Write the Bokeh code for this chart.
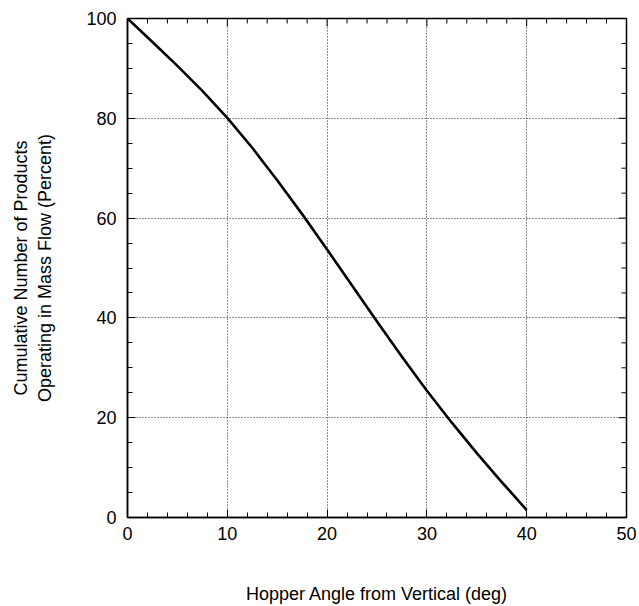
import math
from bokeh.plotting import figure
from bokeh.models import Range1d, FixedTicker
from bokeh.embed import file_html
from bokeh.resources import INLINE

angle = [0, 2.5, 5, 7.5, 10, 12.5, 15, 17.5, 20, 22.5, 25, 27.5, 30, 32.5, 35, 37.5, 40]
percent = [100, 95.3, 90.5, 85.5, 80.1, 74.1, 67.6, 60.8, 53.7, 46.5, 39.3, 32.2, 25.4, 19.0, 12.9, 7.1, 1.5]
x_ticks = [0, 10, 20, 30, 40, 50]
y_ticks = [0, 20, 40, 60, 80, 100]
x_minor = list(range(0, 51, 2))
y_minor = list(range(0, 101, 5))
x_min, x_max = 0, 50
y_min, y_max = 0, 100

FONT = "Liberation Sans"

p = figure(frame_width=499, frame_height=499, output_backend="svg", toolbar_location=None,
           x_range=Range1d(x_min, x_max), y_range=Range1d(y_min, y_max),
           min_border_left=127, min_border_top=18, min_border_right=12, min_border_bottom=5)
p.outline_line_color = "black"
p.outline_line_width = 1.5

# grid
p.xgrid.ticker = FixedTicker(ticks=x_ticks)
p.ygrid.ticker = FixedTicker(ticks=y_ticks)
for g in (p.xgrid[0], p.ygrid[0]):
    g.grid_line_color = "black"
    g.grid_line_dash = "1 2"
    g.grid_line_width = 1
    g.grid_line_alpha = 0.85

p.line(angle, percent, line_color="black", line_width=2.6, line_join="round")

for ax, ticks, minor in ((p.xaxis[0], x_ticks, x_minor), (p.yaxis[0], y_ticks, y_minor)):
    ax.ticker = FixedTicker(ticks=ticks, minor_ticks=minor)
    ax.major_tick_in = 8
    ax.major_tick_out = 0
    ax.minor_tick_in = 5
    ax.minor_tick_out = 0
    ax.axis_line_color = "black"
    ax.axis_line_width = 1.5
    ax.major_label_text_font = FONT
    ax.major_label_text_font_size = "18px"
    ax.major_label_text_color = "black"
    ax.axis_label_text_font = FONT
    ax.axis_label_text_font_size = "18px"
    ax.axis_label_text_font_style = "normal"
    ax.axis_label_text_color = "black"

xb = p.xaxis[0]
yl = p.yaxis[0]
xb.major_label_standoff = 9
yl.major_label_standoff = 11
xb.axis_label = "Hopper Angle from Vertical (deg)"
xb.axis_label_standoff = 41
yl.axis_label = "Cumulative Number of Products\nOperating in Mass Flow (Percent)"
yl.axis_label_standoff = 28

# inward ticks on the top and right frame edges
minor_x_top = [t for t in x_minor if t not in x_ticks]
minor_y_right = [t for t in y_minor if t not in y_ticks]
p.ray(x=x_ticks, y=[y_max] * len(x_ticks), length=8, length_units="screen",
      angle=-math.pi / 2, line_color="black", line_width=1)
p.ray(x=minor_x_top, y=[y_max] * len(minor_x_top), length=5, length_units="screen",
      angle=-math.pi / 2, line_color="black", line_width=1)
p.ray(x=[x_max] * len(y_ticks), y=y_ticks, length=8, length_units="screen",
      angle=math.pi, line_color="black", line_width=1)
p.ray(x=[x_max] * len(minor_y_right), y=minor_y_right, length=5, length_units="screen",
      angle=math.pi, line_color="black", line_width=1)

open("out.html", "w").write(file_html(p, INLINE))
